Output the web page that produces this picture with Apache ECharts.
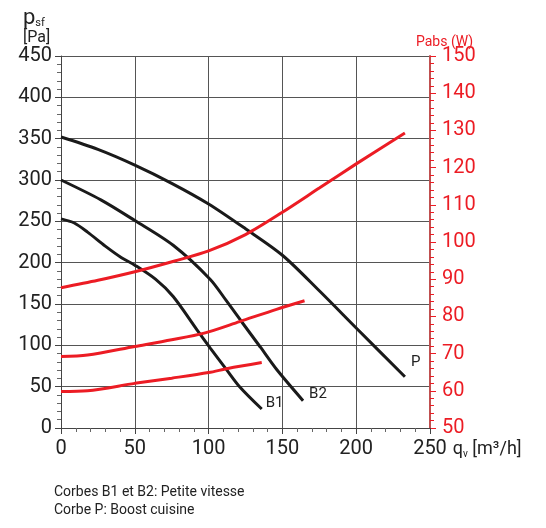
<!DOCTYPE html>
<html>
<head>
<meta charset="utf-8">
<title>psf</title>
<script src="https://cdn.jsdelivr.net/npm/echarts@6/dist/echarts.min.js"></script>
<style>
  html, body { margin: 0; padding: 0; background: #fff; }
  #main { width: 546px; height: 528px; }
</style>
</head>
<body>
<div id="main"></div>
<script>
// pressure curves [qv, psf]
var curveP  = [[0,352],[25,337],[50,318],[75,296],[100,271],[125,241],[150,209],[175,166],[200,121],[233,62]];
var curveB2 = [[0,300],[27,276],[50,251],[76,221],[101,180],[112,154],[123,127],[135,98],[146,71],[164,33]];
var curveB1 = [[0,253],[9,248],[18,237],[30,220],[41,206],[50,197],[64,180],[76,159],[92,119],[101,97],[112,71],[121,50],[136,23]];
// power curves [qv, Pabs]
var powerP  = [[0,87.7],[25,89.7],[50,92],[77,94.9],[100,97.6],[125,102],[150,108],[175,114.5],[200,121],[233,129.3]];
var powerB2 = [[0,69.2],[18,69.6],[50,71.9],[75,73.7],[97,75.5],[121,78.6],[146,81.9],[165,84.2]];
var powerB1 = [[0,59.8],[18,60],[50,62],[75,63.4],[100,64.9],[113,66],[136,67.6]];

var red = '#ec1c24';
var black = '#1a1a1a';
var font = 'Roboto';

var myChart = echarts.init(document.getElementById('main'));

function pressure(name, data, off) {
    return {
        name: name, type: 'line', yAxisIndex: 0, data: data,
        smooth: 0.3, symbol: 'none',
        lineStyle: { color: black, width: 3 },
        endLabel: { show: true, formatter: name, offset: off, color: '#222', fontSize: 15, fontFamily: font },
        z: 3
    };
}
function power(name, data) {
    return {
        name: name, type: 'line', yAxisIndex: 1, data: data,
        smooth: 0.3, symbol: 'none',
        lineStyle: { color: red, width: 3 },
        z: 4
    };
}

myChart.setOption({
    animation: false,
    title: [
        {
            text: '{p|p}{s|sf}\n{u|[Pa]}',
            left: 18, top: 2,
            textStyle: {
                rich: {
                    p: { fontSize: 22, color: '#222', fontFamily: font, fontWeight: 'normal', lineHeight: 22 },
                    s: { fontSize: 11, color: '#222', fontFamily: font, fontWeight: 'normal', verticalAlign: 'bottom', padding: [8, 0, 0, 0] },
                    u: { fontSize: 16, color: '#222', fontFamily: font, fontWeight: 'normal', lineHeight: 17 }
                }
            }
        },
        {
            text: 'Pabs (W)',
            left: 411, top: 30,
            textStyle: { fontSize: 14, color: red, fontWeight: 'normal', fontFamily: font }
        },
        {
            text: 'Corbes B1 et B2: Petite vitesse\nCorbe P: Boost cuisine',
            left: 49, top: 478,
            textStyle: { fontSize: 14, color: '#222', fontWeight: 'normal', fontFamily: font, lineHeight: 18 }
        }
    ],
    grid: { left: 61, right: 116, top: 56, bottom: 100, containLabel: false },
    xAxis: {
        type: 'value', min: 0, max: 250, interval: 50,
        name: '{a|q}{v|v}{a| [m³/h]}', nameLocation: 'end', nameGap: 4,
        nameTextStyle: {
            verticalAlign: 'top', padding: [12, 0, 0, 0],
            rich: {
                a: { fontSize: 18, color: '#222', fontFamily: font },
                v: { fontSize: 10, color: '#222', fontFamily: font, verticalAlign: 'bottom', padding: [9, 0, 0, 0] }
            }
        },
        axisLine: { lineStyle: { color: '#444', width: 1 } },
        axisTick: { show: true, length: 6, lineStyle: { color: '#444' } },
        minorTick: { show: true, splitNumber: 5, length: 4, lineStyle: { color: '#666' } },
        axisLabel: { fontSize: 20, color: '#222', margin: 11, fontFamily: font },
        splitLine: { show: true, lineStyle: { color: '#555', width: 1 } }
    },
    yAxis: [
        {
            type: 'value', min: 0, max: 450, interval: 50,
            axisLine: { show: true, lineStyle: { color: '#444', width: 1 } },
            axisTick: { show: true, length: 6, lineStyle: { color: '#444' } },
            minorTick: { show: true, splitNumber: 5, length: 4, lineStyle: { color: '#666' } },
            axisLabel: { fontSize: 20, color: '#222', margin: 9, fontFamily: font },
            splitLine: { show: true, lineStyle: { color: '#555', width: 1 } }
        },
        {
            type: 'value', min: 50, max: 150, interval: 10, position: 'right',
            axisLine: { show: true, lineStyle: { color: '#c05050', width: 2 } },
            axisTick: { show: true, length: 6, lineStyle: { color: red } },
            minorTick: { show: true, splitNumber: 5, length: 4, lineStyle: { color: red } },
            axisLabel: { fontSize: 20, color: red, margin: 12, fontFamily: font },
            splitLine: { show: false }
        }
    ],
    series: [
        pressure('P', curveP, [-2, -14]),
        pressure('B2', curveB2, [-2, -6]),
        pressure('B1', curveB1, [-4, -6]),
        power('Pabs P', powerP),
        power('Pabs B2', powerB2),
        power('Pabs B1', powerB1)
    ]
});
</script>
</body>
</html>
